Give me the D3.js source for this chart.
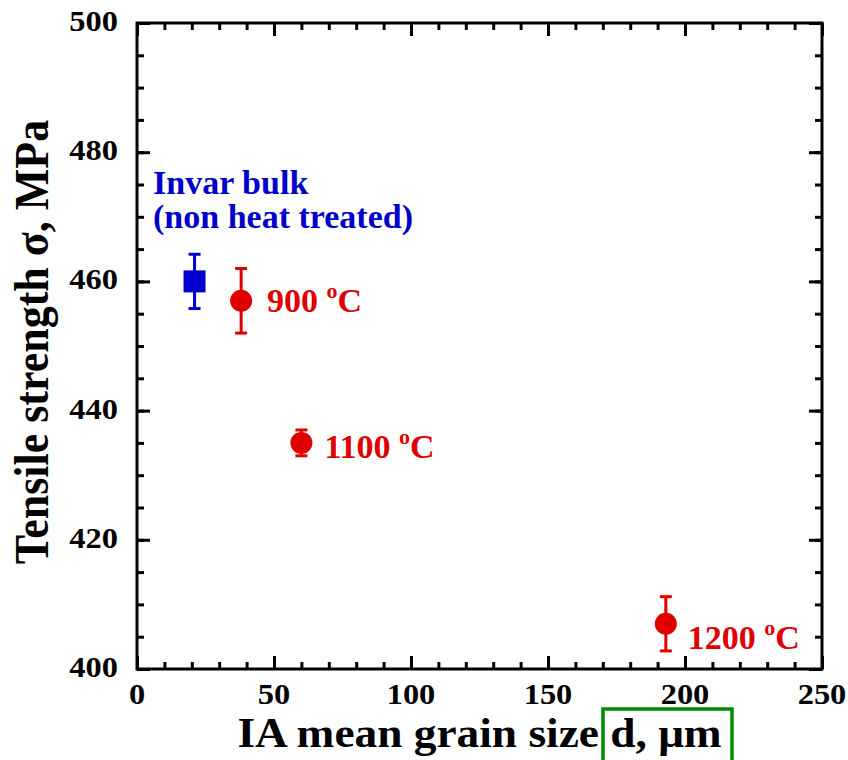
<!DOCTYPE html>
<html>
<head>
<meta charset="utf-8">
<script src="https://cdn.jsdelivr.net/npm/d3@7"></script>
<style>
  html, body { margin: 0; padding: 0; background: #fff; }
  svg { display: block; font-family: "Liberation Serif", "Times New Roman", serif; font-weight: bold; }
</style>
</head>
<body>
<div id="chart"></div>
<script>
// Invar bulk (non heat treated) reference point
const bulkGrain = [21];
const bulkStrength = [460];
const bulkErr = [4.2];

// Annealed samples
const annealTemps = ['900', '1100', '1200'];
const annealGrain = [38, 60, 193];
const annealStrength = [457, 435, 407];
const annealErr = [5, 2, 4.2];

// Axis ticks
const xMajor = [0, 50, 100, 150, 200, 250];
const xMinor = d3.range(0, 251, 10);
const yMajor = [400, 420, 440, 460, 480, 500];
const yMinor = d3.range(400, 501, 5);

const W = 848, H = 760;
const margin = { top: 23, right: 26, bottom: 91, left: 137 };
const width = W - margin.left - margin.right;
const height = H - margin.top - margin.bottom;

const RED = '#e00000';
const BLUE = '#0000cc';

const svg = d3.select('#chart')
    .append('svg')
    .attr('width', W)
    .attr('height', H);

const g = svg.append('g')
    .attr('transform', `translate(${margin.left},${margin.top})`);

const x = d3.scaleLinear().domain([0, 250]).range([0, width]);
const y = d3.scaleLinear().domain([400, 500]).range([height, 0]);

// ticks on all four sides, pointing inward
function tickAxis(axis, scale, values, size, tr) {
    const a = g.append('g')
        .attr('transform', tr)
        .call(axis(scale).tickValues(values).tickSize(size).tickSizeOuter(0).tickFormat(''));
    a.select('.domain').remove();
    a.selectAll('line').attr('stroke', '#000').attr('stroke-width', 3);
}
tickAxis(d3.axisBottom, x, xMinor, -7, `translate(0,${height})`);
tickAxis(d3.axisBottom, x, xMajor, -13, `translate(0,${height})`);
tickAxis(d3.axisTop, x, xMinor, -7, 'translate(0,0)');
tickAxis(d3.axisTop, x, xMajor, -13, 'translate(0,0)');
tickAxis(d3.axisLeft, y, yMinor, -7, 'translate(0,0)');
tickAxis(d3.axisLeft, y, yMajor, -13, 'translate(0,0)');
tickAxis(d3.axisRight, y, yMinor, -7, `translate(${width},0)`);
tickAxis(d3.axisRight, y, yMajor, -13, `translate(${width},0)`);

// frame
g.append('rect')
    .attr('width', width)
    .attr('height', height)
    .attr('fill', 'none')
    .attr('stroke', '#000')
    .attr('stroke-width', 3);

// tick labels (slightly wide serif)
const sx = 1.12;
g.selectAll('.xlab')
    .data(xMajor)
    .enter()
    .append('text')
    .attr('transform', d => `translate(${x(d)},${height + 35}) scale(${sx},1)`)
    .attr('text-anchor', 'middle')
    .style('font-size', '29px')
    .text(d => d);

g.selectAll('.ylab')
    .data(yMajor)
    .enter()
    .append('text')
    .attr('transform', d => `translate(-19,${y(d) + 8}) scale(${sx},1)`)
    .attr('text-anchor', 'end')
    .style('font-size', '29px')
    .text(d => d);

// axis titles
svg.append('text')
    .attr('transform', `translate(${margin.left + width / 2},747) scale(1.08,1)`)
    .attr('text-anchor', 'middle')
    .style('font-size', '42px')
    .text('IA mean grain size d, \u03bcm');

svg.append('text')
    .attr('transform', `translate(48,${margin.top + height / 2 - 4}) scale(1.12,1) rotate(-90)`)
    .attr('text-anchor', 'middle')
    .style('font-size', '44px')
    .text('Tensile strength \u03c3, MPa');

// green highlight box around "d, um"
svg.append('rect')
    .attr('x', 603)
    .attr('y', 709)
    .attr('width', 129)
    .attr('height', 70)
    .attr('fill', 'none')
    .attr('stroke', '#008a00')
    .attr('stroke-width', 3.5);

// error bars
function errorBars(gx, gy, ge, color) {
    const eb = g.append('g').attr('stroke', color).attr('stroke-width', 3);
    gx.forEach((v, i) => {
        const cx = x(v);
        eb.append('line').attr('x1', cx).attr('x2', cx)
            .attr('y1', y(gy[i] - ge[i])).attr('y2', y(gy[i] + ge[i]));
        [gy[i] - ge[i], gy[i] + ge[i]].forEach(e => {
            eb.append('line').attr('x1', cx - 6).attr('x2', cx + 6)
                .attr('y1', y(e)).attr('y2', y(e));
        });
    });
}
errorBars(bulkGrain, bulkStrength, bulkErr, BLUE);
errorBars(annealGrain, annealStrength, annealErr, RED);

// markers
g.selectAll('.bulk')
    .data(bulkGrain)
    .enter()
    .append('rect')
    .attr('x', d => x(d) - 11)
    .attr('y', (d, i) => y(bulkStrength[i]) - 11)
    .attr('width', 22)
    .attr('height', 22)
    .attr('fill', BLUE);

g.selectAll('.anneal')
    .data(annealGrain)
    .enter()
    .append('circle')
    .attr('cx', d => x(d))
    .attr('cy', (d, i) => y(annealStrength[i]))
    .attr('r', 11)
    .attr('fill', RED);

// annotations
const labelOffsets = [[26, 11], [23, 15], [22, 25]];
annealTemps.forEach((t, i) => {
    const lab = g.append('text')
        .attr('x', x(annealGrain[i]) + labelOffsets[i][0])
        .attr('y', y(annealStrength[i]) + labelOffsets[i][1])
        .attr('fill', RED)
        .style('font-size', '34px');
    lab.append('tspan').text(t + ' ');
    lab.append('tspan').attr('dy', -14).style('font-size', '22px').text('o');
    lab.append('tspan').attr('dy', 14).text('C');
});

const bulkLab = g.append('text')
    .attr('fill', BLUE)
    .style('font-size', '34px');
bulkLab.append('tspan').attr('x', 16).attr('y', y(bulkStrength[0]) - 87).text('Invar bulk');
bulkLab.append('tspan').attr('x', 16).attr('y', y(bulkStrength[0]) - 53).text('(non heat treated)');
</script>
</body>
</html>
